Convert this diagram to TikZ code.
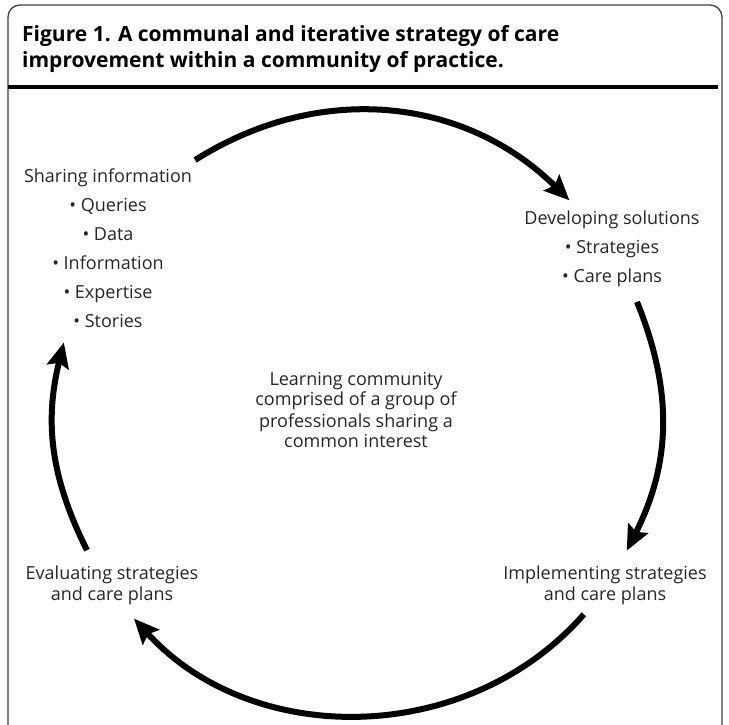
\documentclass[tikz,border=0pt]{standalone}
\usepackage{fontspec}
\setmainfont{Open Sans}
\usetikzlibrary{arrows.meta, calc, positioning}

\begin{document}
\begin{tikzpicture}[x=1pt, y=1pt, font=\fontsize{18}{21}\selectfont,
    frame/.style={draw, black!75, line width=1.3pt, rounded corners=12pt},
    heading/.style={anchor=base west, align=left, inner sep=0, font=\fontsize{21}{26}\selectfont\bfseries},
    stage/.style={anchor=base, align=center, inner sep=0, text=black!85},
    items/.style={stage, font=\fontsize{18}{29}\selectfont},
    turn/.style={line width=6pt, -{Stealth[length=25pt, width=22pt, inset=4pt]}},
    rule/.style={line width=4pt},
    ]
    \useasboundingbox (0,0) rectangle (729,724);

    \coordinate (hub) at (357,309);
    \coordinate (r1) at (8,637);
    \coordinate (r2) at (718,637);

    % frame, open at the bottom
    \draw[frame] (8,-10) -- (8,719) -- (722,719) -- (722,-10);

    % base of a node = baseline of its last line
    \node(title)[heading] at (22,656){Figure 1. A communal and iterative strategy of care\\improvement within a community of practice.};
    \draw[rule](r1) -- (r2);

    \node(share)[items] at (108,396){Sharing information\\ \textbullet\ Queries\\ \textbullet\ Data\\ \textbullet\ Information\\ \textbullet\ Expertise\\ \textbullet\ Stories};
    \node(dev)[items] at (612,441){Developing solutions\\ \textbullet\ Strategies\\ \textbullet\ Care plans};
    \node(impl)[stage] at (605,124){Implementing strategies\\and care plans};
    \node(eval)[stage] at (112,124){Evaluating strategies\\and care plans};
    \node(core)[stage] at (356,276){Learning community\\comprised of a group of\\professionals sharing a\\common interest};

    % ends of the four arcs, on one circle round the hub
    \coordinate (a1) at ($(hub)+(122.4:302)$);
    \coordinate (a2) at ($(hub)+(45.3:302)$);
    \coordinate (b1) at ($(hub)+(22:302)$);
    \coordinate (b2) at ($(hub)+(-26.7:302)$);
    \coordinate (c1) at ($(hub)+(-41.3:302)$);
    \coordinate (c2) at ($(hub)+(-137.6:302)$);
    \coordinate (d1) at ($(hub)+(206.6:302)$);
    \coordinate (d2) at ($(hub)+(166.1:302)$);

    \draw[turn](a1) to[bend left=38.5] (a2);
    \draw[turn](b1) to[bend left=24.4] (b2);
    \draw[turn](c1) to[bend left=48.2] (c2);
    \draw[turn](d1) to[bend left=20.2] (d2);

\end{tikzpicture}
\end{document}
